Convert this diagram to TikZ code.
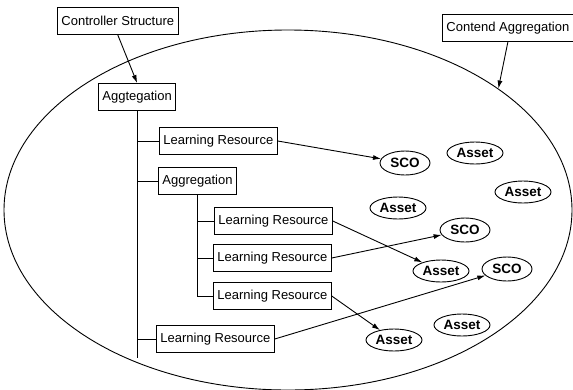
\documentclass[tikz,border=0pt]{standalone}
\usepackage{fontspec}
\setmainfont{Liberation Sans}
\usetikzlibrary{shapes.geometric, arrows.meta}
\begin{document}
\begin{tikzpicture}[x=1pt, y=-1pt, line width=0.9pt, >={Latex[length=8pt, width=5pt]},
  font=\fontsize{13}{15}\selectfont,
  itembox/.style={draw, rectangle, minimum height=27pt, inner xsep=4pt, anchor=west},
  sco/.style={draw, ellipse, inner sep=0pt, minimum width=50pt, minimum height=24pt, font=\fontsize{13.5}{15}\selectfont\bfseries},
  asset/.style={draw, ellipse, inner sep=0pt, minimum width=56pt, minimum height=22pt, font=\fontsize{13.5}{15}\selectfont\bfseries}]
\useasboundingbox (0,0) rectangle (573,389);
% content aggregation
\node[draw, ellipse, inner sep=0pt, minimum width=568pt, minimum height=360pt] (content) at (288,210) {};
% structure
\node[itembox] (ctrl) at (57,21) {Controller Structure};
\node[itembox] (contend) at (442,28) {Contend Aggregation};
\node[itembox] (aggtop) at (98,97) {Aggtegation};
\node[itembox] (lrone) at (159,141) {Learning Resource};
\node[itembox] (aggsub) at (158,181) {Aggregation};
\node[itembox] (lra) at (214,221) {Learning Resource};
\node[itembox] (lrb) at (213,258) {Learning Resource};
\node[itembox] (lrc) at (213,296) {Learning Resource};
\node[itembox] (lrlast) at (156,339) {Learning Resource};
% SCOs and assets
\node[sco] (scoa) at (405,163) {SCO};
\node[sco] (scob) at (465,230) {SCO};
\node[sco] (scoc) at (507,269) {SCO};
\node[asset] (asseta) at (475,153) {Asset};
\node[asset] (assetb) at (523,192) {Asset};
\node[asset] (assetc) at (398,208) {Asset};
\node[asset] (assetd) at (441,271) {Asset};
\node[asset] (assete) at (462,325) {Asset};
\node[asset] (assetf) at (394,340) {Asset};
% tree lines
\coordinate (trunkend) at (aggtop.south |- 0,358);
\draw (aggtop.south) -- (trunkend);
\draw (aggtop.south |- lrone.west) -- (lrone.west);
\draw (aggtop.south |- aggsub.west) -- (aggsub.west);
\draw (aggtop.south |- lrlast.west) -- (lrlast.west);
\draw (aggsub.south) |- (lrc.west);
\draw (aggsub.south |- lra.west) -- (lra.west);
\draw (aggsub.south |- lrb.west) -- (lrb.west);
% arrows
\draw[->] (ctrl.south) -- (aggtop.north);
\draw[->] (contend.south) -- (content.30.7);
\draw[->] (lrone.east) -- (scoa);
\draw[->] (lra.east) -- (assetd);
\draw[->] (lrb.east) -- (scob);
\draw[->] (lrc.east) -- (assetf);
\draw[->] (lrlast.east) -- (scoc);
\end{tikzpicture}
\end{document}
